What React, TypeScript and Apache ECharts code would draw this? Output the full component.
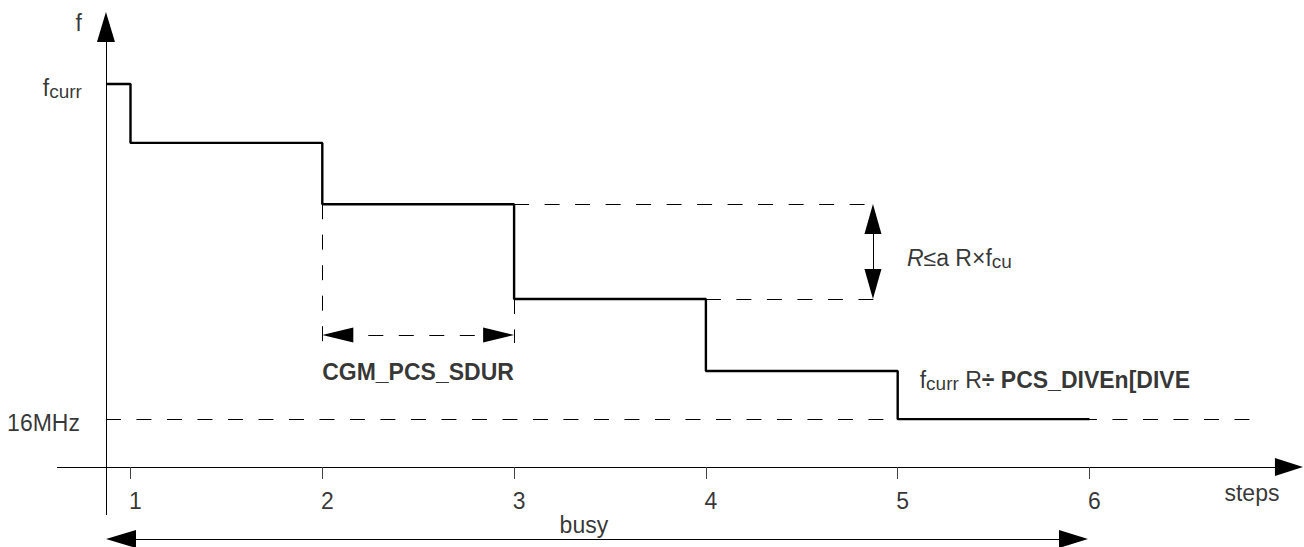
import React, { useEffect, useRef } from 'react';
import * as echarts from 'echarts';

// ---- data (arbitrary frequency units, steps on x) ----
const stepTicks = [1, 2, 3, 4, 5, 6];
const stepX = [0.872, 1, 2, 3, 4, 5, 6];
const freqValues = [80, 67.7, 54.9, 35.1, 20.05, 10, 10];
const fCurr = 80;
const f16MHz = 10;
const fAxisX = 0.872;
const xRange = [0.3196, 7.1184];
const yRange = [-16.71, 97.55];

const FONT = '"Liberation Sans", Arial, Helvetica, sans-serif';

type P = [number, number];
function seg(
  from: P,
  to: P,
  opts: { start?: number[]; end?: number[]; dashed?: boolean; color?: string } = {}
) {
  const lineStyle = {
    color: opts.color || '#000',
    width: 1,
    type: opts.dashed ? [15, 15.5] : 'solid',
  };
  return [
    { coord: from, symbol: opts.start ? 'triangle' : 'none', symbolSize: opts.start || 0, lineStyle },
    { coord: to, symbol: opts.end ? 'triangle' : 'none', symbolSize: opts.end || 0, lineStyle },
  ];
}

export default function App() {
  const ref = useRef<HTMLDivElement>(null);
  useEffect(() => {
    if (!ref.current) return;
    const chart = echarts.init(ref.current, undefined, { renderer: 'svg' });
    const xEnd = 4.8816;
    const arrowBottom = 25.9;
    const tickLen = 2.507; // tick length in y units
    const rich = {
      m: { fontSize: 23, fontFamily: FONT, color: '#000' },
      s: { fontSize: 19, fontFamily: FONT, color: '#000', padding: [7, 0, 0, 0] },
      b: { fontSize: 23, fontFamily: FONT, color: '#000', fontWeight: 'bold' },
      i: { fontSize: 23, fontFamily: FONT, color: '#000', fontStyle: 'italic' },
    };
    const option = {
      animation: false,
      grid: { left: 0, right: 0, top: 0, bottom: 0, containLabel: false, outerBoundsMode: 'none' },
      xAxis: { type: 'value', min: xRange[0], max: xRange[1], show: false },
      yAxis: { type: 'value', min: yRange[0], max: yRange[1], show: false },
      series: [
        {
          type: 'line',
          step: 'end',
          symbol: 'none',
          silent: true,
          clip: false,
          lineStyle: { color: '#000', width: 2.4 },
          data: stepX.map((x, i) => [x, freqValues[i]]),
          z: 3,
          markLine: {
            silent: true,
            animation: false,
            symbol: 'none',
            label: { show: false },
            emphasis: { disabled: true },
            lineStyle: { color: '#000', width: 1, type: 'solid' },
            data: [
              // axes
              seg([0.617, 0], [7.04, 0], { end: [18, 28] }),
              seg([fAxisX, -10.03], [fAxisX, 91.9], { end: [18, 30] }),
              // ticks
              ...stepTicks.map((t) => seg([t, 0], [t, -tickLen], { color: '#444' })),
              // busy
              seg([0.9505, -15.04], [5.9166, -15.04], { start: [18, 30], end: [18, 29] }),
              // 16MHz reference
              seg([fAxisX, f16MHz], [6.878, f16MHz], { dashed: true }),
              // delta guides
              seg([3, freqValues[2]], [xEnd, freqValues[2]], { dashed: true }),
              seg([4, freqValues[3]], [xEnd, freqValues[3]], { dashed: true }),
              seg([2, freqValues[2]], [2, arrowBottom], { dashed: true }),
              seg([3, freqValues[3]], [3, arrowBottom], { dashed: true }),
              // SDUR arrow
              seg([2.0808, 27.57], [2.9192, 27.57], { start: [15, 31], end: [15, 31], dashed: true }),
              // delta arrow
              seg([4.871, 51.8], [4.871, 38.22], { start: [17, 30], end: [17, 30] }),
            ],
          },
        },
        {
          type: 'scatter',
          symbolSize: 0,
          silent: true,
          z: 5,
          label: { show: true, color: '#000', fontFamily: FONT, fontSize: 23, rich },
          data: [
            ...stepTicks.map((t) => ({
              value: [t + 0.026, -7.0],
              label: { position: 'inside', formatter: `{m|${t}}` },
            })),
            { value: [fAxisX, 92.85], label: { position: 'left', distance: 24, formatter: '{m|f}' } },
            { value: [fAxisX, fCurr], label: { position: 'left', distance: 24, offset: [0, 4], formatter: '{m|f}{s|curr}' } },
            { value: [fAxisX, f16MHz], label: { position: 'left', distance: 26, offset: [0, 3.5], formatter: '{m|16MHz}' } },
            { value: [2.499, 19.9], label: { position: 'inside', formatter: '{b|CGM_PCS_SDUR}' } },
            { value: [4.871, 43.66], label: { position: 'right', distance: 34, formatter: '{i|R}{m|≤a R×f}{s|cu}' } },
            { value: [5, 18.17], label: { position: 'right', distance: 22, formatter: '{m|f}{s|curr}{m| R}{b|÷ PCS_DIVEn[DIVE}' } },
            { value: [3.364, -12.11], label: { position: 'inside', formatter: '{m|busy}' } },
            { value: [6.847, -5.33], label: { position: 'inside', formatter: '{m|steps}' } },
          ],
        },
      ],
    };
    chart.setOption(option as any);
    return () => chart.dispose();
  }, []);
  return (
    <div
      ref={ref}
      style={{ position: 'fixed', left: 0, top: 0, width: 1304, height: 547, background: '#fff' }}
    />
  );
}
